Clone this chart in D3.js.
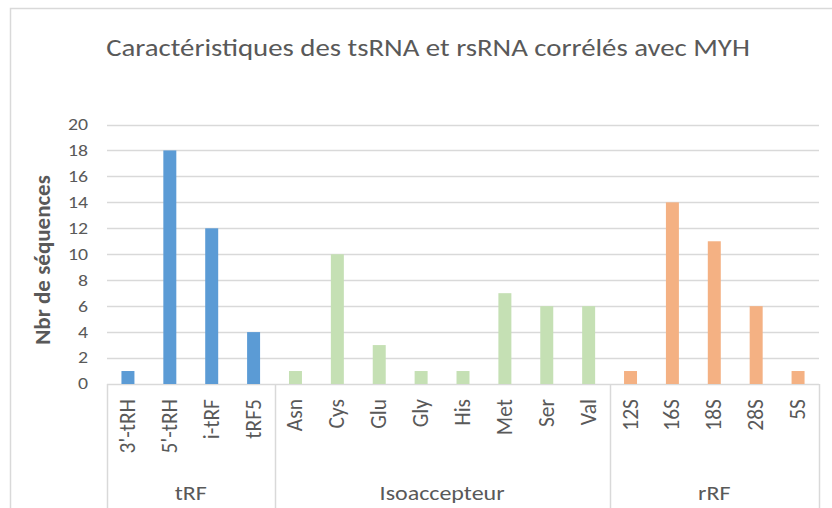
<!DOCTYPE html>
<html>
<head>
<meta charset="utf-8">
<script src="https://cdn.jsdelivr.net/npm/d3@7"></script>
<style>
  html, body { margin: 0; padding: 0; background: #fff; }
  svg { display: block; font-family: Carlito, Calibri, Lato, "Open Sans", sans-serif; }
</style>
</head>
<body>
<svg id="chart" width="832" height="508"></svg>
<script>
// Sub-categories along the x axis, grouped under their family
const categories = ["3'-tRH", "5'-tRH", "i-tRF", "tRF5",
  "Asn", "Cys", "Glu", "Gly", "His", "Met", "Ser", "Val",
  "12S", "16S", "18S", "28S", "5S"];
const values = [1, 18, 12, 4,
  1, 10, 3, 1, 1, 7, 6, 6,
  1, 14, 11, 6, 1];
const groupNames = ["tRF", "Isoaccepteur", "rRF"];
const groupSizes = [4, 8, 5];
const groupColors = ["#5B9BD5", "#C5E0B4", "#F4B183"];
const yTicks = [0, 2, 4, 6, 8, 10, 12, 14, 16, 18, 20];
const title = "Caractéristiques des tsRNA et rsRNA corrélés avec MYH";
const yTitle = "Nbr de séquences";

const svg = d3.select("#chart");
const W = 832, H = 508;
const plot = { left: 107, right: 819, top: 124.5, bottom: 384 };
const textColor = "#595959";
const lineColor = "#D9D9D9";
const wide = 1.2; // horizontal widening applied to horizontal text

// Which group each category belongs to
const groupOf = [];
groupSizes.forEach((n, g) => { for (let i = 0; i < n; i++) groupOf.push(g); });

const x = d3.scaleBand().domain(categories).range([plot.left, plot.right]).padding(0);
const y = d3.scaleLinear().domain([0, 20]).range([plot.bottom, plot.top]);

// Chart frame
svg.append("rect")
  .attr("x", 10.5).attr("y", 8.5)
  .attr("width", W + 20).attr("height", H + 20)
  .attr("fill", "none").attr("stroke", lineColor).attr("stroke-width", 1.5);

// Title
svg.append("text")
  .attr("transform", `translate(428,56) scale(${wide},1)`)
  .attr("text-anchor", "middle")
  .attr("font-size", 24)
  .attr("fill", textColor)
  .text(title);

// Horizontal gridlines
svg.append("g")
  .selectAll("line")
  .data(yTicks)
  .join("line")
  .attr("x1", plot.left).attr("x2", plot.right)
  .attr("y1", d => Math.round(y(d)) + 0.5).attr("y2", d => Math.round(y(d)) + 0.5)
  .attr("stroke", lineColor).attr("stroke-width", 1.5);

// Y axis tick labels
svg.append("g")
  .selectAll("text")
  .data(yTicks)
  .join("text")
  .attr("transform", d => `translate(${plot.left - 19},${y(d)}) scale(${wide},1)`)
  .attr("text-anchor", "end")
  .attr("dominant-baseline", "central")
  .attr("font-size", 16.5)
  .attr("fill", textColor)
  .text(d => d);

// Y axis title
svg.append("text")
  .attr("transform", `translate(42,260) rotate(-90)`)
  .attr("text-anchor", "middle")
  .attr("dominant-baseline", "central")
  .attr("font-size", 23)
  .attr("font-weight", 600)
  .attr("fill", textColor)
  .text(yTitle);

// Bars
const barW = x.bandwidth() * 0.31;
svg.append("g")
  .selectAll("rect")
  .data(categories)
  .join("rect")
  .attr("x", d => x(d) + (x.bandwidth() - barW) / 2)
  .attr("width", barW)
  .attr("y", (d, i) => y(values[i]))
  .attr("height", (d, i) => y(0) - y(values[i]))
  .attr("fill", (d, i) => groupColors[groupOf[i]]);

// Category labels, rotated
svg.append("g")
  .selectAll("text")
  .data(categories)
  .join("text")
  .attr("transform", d => `translate(${x(d) + x.bandwidth() / 2},${plot.bottom + 15}) rotate(-90)`)
  .attr("text-anchor", "end")
  .attr("dominant-baseline", "central")
  .attr("font-size", 21.5)
  .attr("fill", textColor)
  .text(d => d);

// Group separators and group labels
const bounds = [0];
groupSizes.forEach(n => bounds.push(bounds[bounds.length - 1] + n));
const sepX = i => i < categories.length ? x(categories[i]) : plot.right;
svg.append("g")
  .selectAll("line")
  .data(bounds)
  .join("line")
  .attr("x1", i => Math.round(sepX(i)) + 0.5).attr("x2", i => Math.round(sepX(i)) + 0.5)
  .attr("y1", plot.bottom).attr("y2", H)
  .attr("stroke", lineColor).attr("stroke-width", 1.5);

svg.append("g")
  .selectAll("text")
  .data(groupNames)
  .join("text")
  .attr("transform", (d, g) => `translate(${(sepX(bounds[g]) + sepX(bounds[g + 1])) / 2},493) scale(${wide},1)`)
  .attr("text-anchor", "middle")
  .attr("dominant-baseline", "central")
  .attr("font-size", 20)
  .attr("fill", textColor)
  .text(d => d);
</script>
</body>
</html>
